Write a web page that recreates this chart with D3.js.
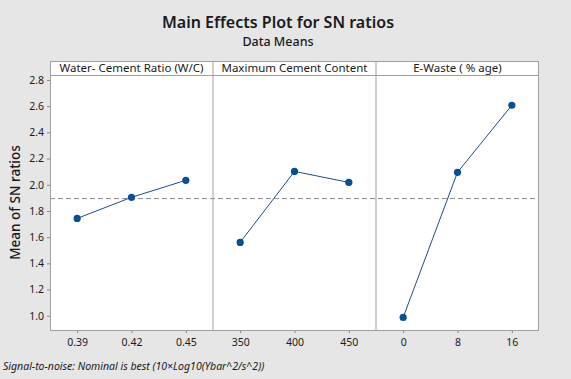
<!DOCTYPE html>
<html>
<head>
<meta charset="utf-8">
<script src="https://cdn.jsdelivr.net/npm/d3@7"></script>
<style>
  html, body { margin: 0; padding: 0; background: #e6e6e6; }
  svg { display: block; }
  text { font-family: "Noto Sans", "Open Sans", sans-serif; fill: #1a1a1a; }
</style>
</head>
<body>
<svg id="chart" width="571" height="379"></svg>
<script>
// ---- Data ----
const factors = ["Water- Cement Ratio (W/C)", "Maximum Cement Content", "E-Waste ( % age)"];
const levelsWC = ["0.39", "0.42", "0.45"];
const levelsMCC = ["350", "400", "450"];
const levelsEW = ["0", "8", "16"];
const meansWC = [1.743, 1.904, 2.034];
const meansMCC = [1.560, 2.102, 2.018];
const meansEW = [0.987, 2.095, 2.607];
const yTicks = [1.0, 1.2, 1.4, 1.6, 1.8, 2.0, 2.2, 2.4, 2.6, 2.8];

const panels = [
  { name: factors[0], levels: levelsWC, values: meansWC },
  { name: factors[1], levels: levelsMCC, values: meansMCC },
  { name: factors[2], levels: levelsEW, values: meansEW }
];
const grandMean = d3.mean([...meansWC, ...meansMCC, ...meansEW]);

// ---- Layout ----
const svg = d3.select("#chart");
const W = 571, H = 379;
const left = 50, right = 539, headerTop = 61, plotTop = 75, plotBottom = 330;
const panelW = (right - left) / panels.length;

svg.append("rect").attr("width", W).attr("height", H).attr("fill", "#e6e6e6");

// Titles
svg.append("text").attr("x", 278).attr("y", 28)
  .attr("text-anchor", "middle").attr("font-size", 16).attr("font-weight", 600)
  .text("Main Effects Plot for SN ratios");
svg.append("text").attr("x", 278).attr("y", 46)
  .attr("text-anchor", "middle").attr("font-size", 12.5).attr("font-weight", 500)
  .text("Data Means");

const y = d3.scaleLinear().domain([0.891, 2.838]).range([plotBottom, plotTop]);

// plot background
svg.append("rect").attr("x", left).attr("y", headerTop)
  .attr("width", right - left).attr("height", plotBottom - headerTop)
  .attr("fill", "#ffffff");

// Y axis
const yAxis = svg.append("g").attr("transform", `translate(${left},0)`)
  .call(d3.axisLeft(y).tickValues(yTicks).tickFormat(d3.format(".1f")).tickSize(3).tickPadding(3));
yAxis.select(".domain").remove();
yAxis.selectAll("line").attr("stroke", "#888");
yAxis.selectAll("text").attr("font-size", 10.5).style("font-family", "'Noto Sans', sans-serif").attr("fill", "#1a1a1a");

svg.append("text")
  .attr("transform", `translate(20,${(plotTop + plotBottom) / 2}) rotate(-90)`)
  .attr("text-anchor", "middle").attr("font-size", 13.5).attr("font-weight", 500)
  .text("Mean of SN ratios");

// Reference line (grand mean)
svg.append("line").attr("x1", left).attr("x2", right)
  .attr("y1", y(grandMean)).attr("y2", y(grandMean))
  .attr("stroke", "#8c8c8c").attr("stroke-width", 1).attr("stroke-dasharray", "5,3");

panels.forEach((p, i) => {
  const x0 = left + i * panelW;
  const x = d3.scalePoint().domain(p.levels).range([x0, x0 + panelW]).padding(0.5);
  const g = svg.append("g");

  // header
  g.append("text").attr("x", x0 + panelW / 2).attr("y", headerTop + 11)
    .attr("text-anchor", "middle").attr("font-size", 11.5)
    .text(p.name);

  // x axis
  const xa = svg.append("g").attr("transform", `translate(0,${plotBottom})`)
    .call(d3.axisBottom(x).tickSize(3).tickPadding(6));
  xa.select(".domain").remove();
  xa.selectAll("line").attr("stroke", "#888");
  xa.selectAll("text").attr("font-size", 10.5).style("font-family", "'Noto Sans', sans-serif").attr("fill", "#1a1a1a");

  const pts = p.levels.map((l, k) => [x(l), y(p.values[k])]);
  g.append("path").attr("d", d3.line()(pts))
    .attr("fill", "none").attr("stroke", "#1f4f85").attr("stroke-width", 1);
  g.selectAll("circle").data(pts).join("circle")
    .attr("cx", d => d[0]).attr("cy", d => d[1]).attr("r", 3.6)
    .attr("fill", "#0b4f90");

  if (i > 0) {
    svg.append("line").attr("x1", x0).attr("x2", x0)
      .attr("y1", headerTop).attr("y2", plotBottom)
      .attr("stroke", "#a0a0a0").attr("stroke-width", 1);
  }
});

// header separator and border
svg.append("line").attr("x1", left).attr("x2", right)
  .attr("y1", plotTop + 0.5).attr("y2", plotTop + 0.5)
  .attr("stroke", "#a0a0a0");
svg.append("rect").attr("x", left + 0.5).attr("y", headerTop + 0.5)
  .attr("width", right - left - 1).attr("height", plotBottom - headerTop)
  .attr("fill", "none").attr("stroke", "#a0a0a0");

// footnote
svg.append("text").attr("x", 3).attr("y", 370)
  .attr("font-size", 10.5).attr("font-style", "italic")
  .text("Signal-to-noise: Nominal is best (10×Log10(Ybar^2/s^2))");
</script>
</body>
</html>
